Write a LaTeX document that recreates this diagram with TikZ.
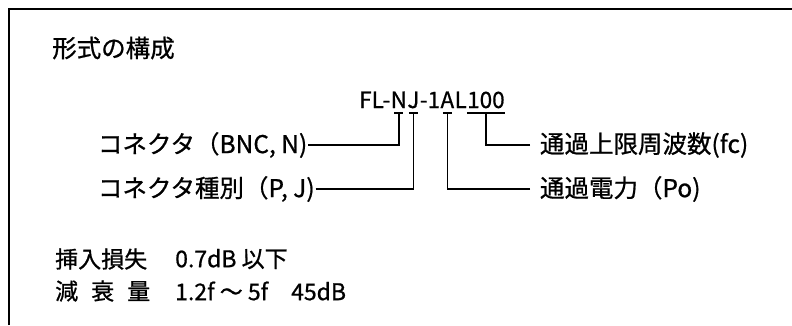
\documentclass[tikz,border=0pt]{standalone}
\usepackage{fontspec}
\setmainfont{Noto Sans CJK JP}[FakeBold=0.8]
\usetikzlibrary{calc}

\begin{document}
\begin{tikzpicture}[
    x=1pt, y=-1pt,
    txt/.style={inner sep=0pt, font=\fontsize{24.5}{29}\selectfont},
    small/.style={inner sep=0pt, anchor=west, font=\fontsize{23}{28}\selectfont},
    code/.style={inner sep=0pt, anchor=base west, font=\fontsize{22.5}{27}\selectfont},
    conn/.style={line width=1.4pt},
    tickmark/.style={line width=1.4pt}
]
\useasboundingbox (0,0) rectangle (792,325);

% Frame (only top and left edge visible)
\draw[line width=1.6pt] (9,325) -- (9,9) -- (792,9);

% Title
\node[txt, anchor=west] (title) at (52,48) {形式の構成};

% Model code, split into its parts
\node[code] (cFL) at (359,108) {FL-};
\node[code] (cN) at (cFL.base east) {N};
\node[code] (cJ) at (cN.base east) {J};
\node[code] (cD) at (cJ.base east) {-1};
\node[code] (cA) at (cD.base east) {A};
\node[code] (cL) at (cA.base east) {L};
\node[code] (cF) at (cL.base east) {100};

% Ticks under the parts
\coordinate (tN) at ($(cN.base)+(0,5)$);
\coordinate (tJ) at ($(cJ.base)+(0,5)$);
\coordinate (tA) at ($(cA.base)+(0,5)$);
\coordinate (tF) at ($(cF.base)+(0,5)$);
\draw[tickmark] ($(tN)+(-4.5,0)$) -- ($(tN)+(4.5,0)$);
\draw[tickmark] ($(tJ)+(-4.5,0)$) -- ($(tJ)+(4.5,0)$);
\draw[tickmark] ($(tA)+(-4.5,0)$) -- ($(tA)+(4.5,0)$);
\draw[tickmark] (cF.base west |- tF) -- (cF.base east |- tF);

% Left labels
\node[txt, anchor=west, outer xsep=1pt] (bnc) at (97,145) {コネクタ（BNC, N)};
\node[txt, anchor=west, outer xsep=1pt] (pj) at (97,189) {コネクタ種別（P, J)};

% Right labels
\node[txt, anchor=west, outer xsep=10pt] (fc) at (530,145) {通過上限周波数(fc)};
\node[txt, anchor=west, outer xsep=10pt] (po) at (530,189) {通過電力（Po)};

% Connectors
\draw[conn] (bnc.east) -| (tN);
\draw[conn] (pj.east) -| (tJ);
\draw[conn] (po.west) -| (tA);
\draw[conn] (fc.west) -| (tF);

% Specifications
\node[small] (loss) at (55,259) {挿入損失};
\node[small] (lossv) at (175,259) {0.7dB 以下};
\node[small] (att) at (55,291) {減\hspace{13pt}衰\hspace{13pt}量};
\node[small] (attv) at (175,291) {1.2f ～ 5f　45dB};

\end{tikzpicture}
\end{document}
